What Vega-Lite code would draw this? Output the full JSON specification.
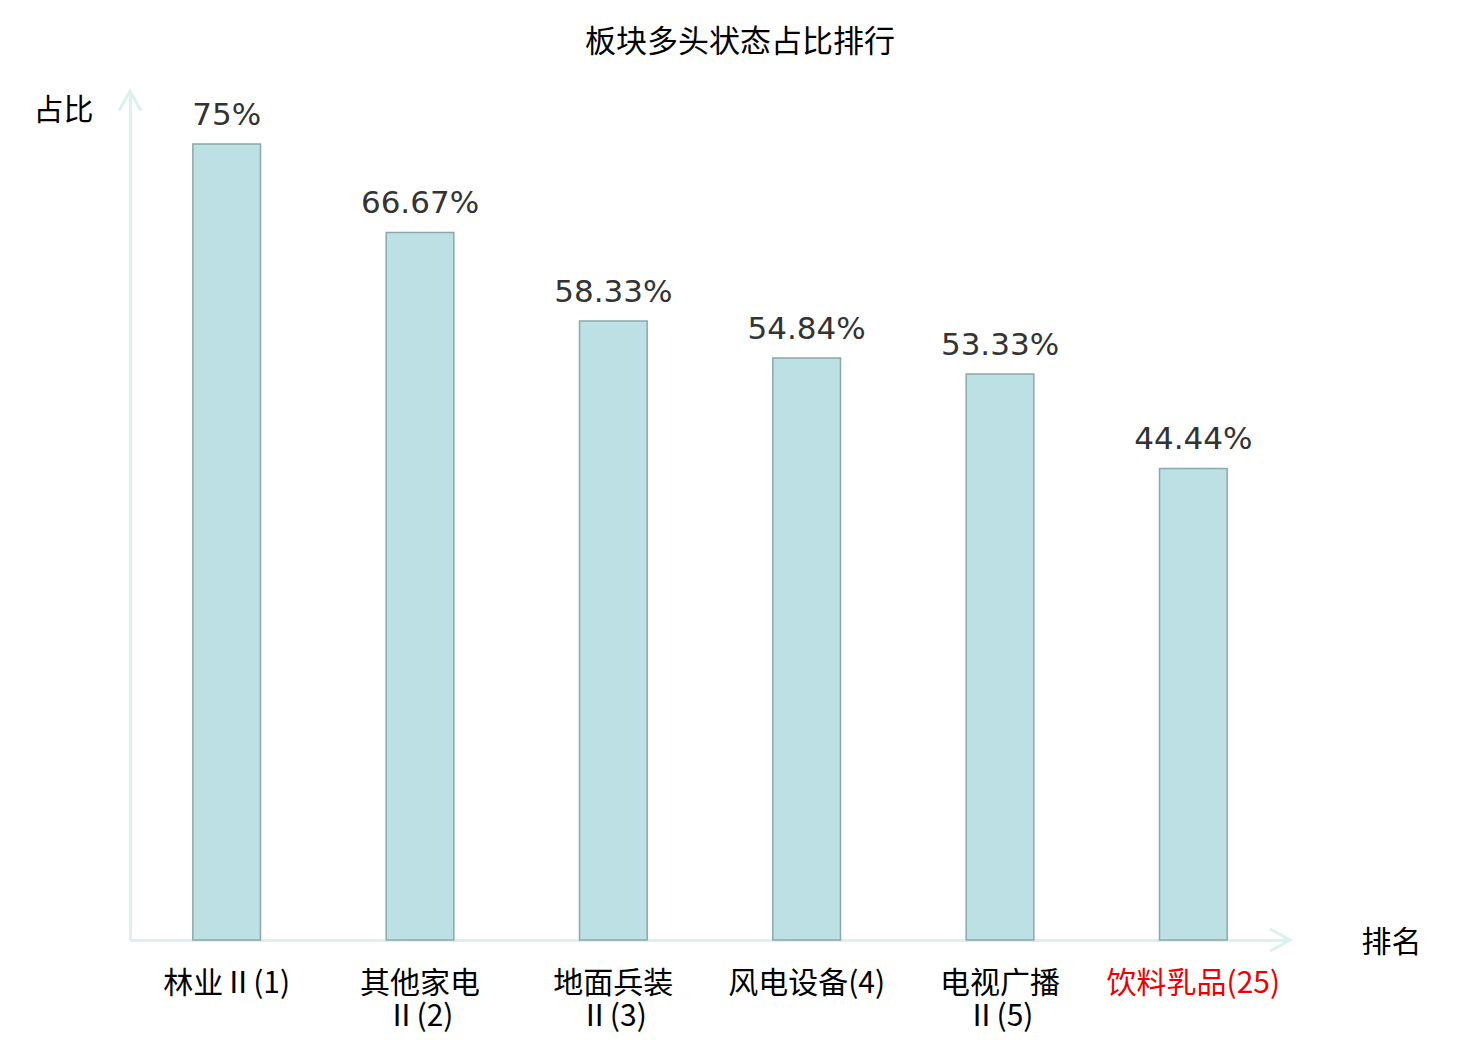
{
  "$schema": "https://vega.github.io/schema/vega-lite/v6.json",
  "autosize": "none",
  "padding": {"left": 130, "top": 91, "right": 190, "bottom": 100},
  "width": 1160,
  "height": 849,
  "background": "white",
  "title": {
    "text": "板块多头状态占比排行",
    "font": "Noto Sans CJK SC",
    "fontSize": 31,
    "fontWeight": "normal",
    "color": "#000",
    "anchor": "middle",
    "frame": "group",
    "dx": 30,
    "offset": 26
  },
  "config": {"view": {"stroke": null}},
  "layer": [
    {
      "data": {
        "values": [
          {"sector": "林业Ⅱ(1)", "value": 75},
          {"sector": "其他家电\nⅡ(2)", "value": 66.67},
          {"sector": "地面兵装\nⅡ(3)", "value": 58.33},
          {"sector": "风电设备(4)", "value": 54.84},
          {"sector": "电视广播\nⅡ(5)", "value": 53.33},
          {"sector": "饮料乳品(25)", "value": 44.44}
        ]
      },
      "transform": [{"calculate": "datum.value + '%'", "as": "label"}],
      "encoding": {
        "x": {
          "field": "sector",
          "type": "nominal",
          "sort": null,
          "scale": {"paddingInner": 0.65, "paddingOuter": 0.325},
          "axis": {
            "title": "排名",
            "titleFont": "Noto Sans CJK SC",
            "titleFontSize": 30,
            "titleFontWeight": "normal",
            "titleColor": "#000",
            "titleAngle": 0,
            "titleAlign": "center",
            "titleBaseline": "middle",
            "titleX": 1261,
            "titleY": 2,
            "labelAngle": 0,
            "labelExpr": "split(datum.label, '\\n')",
            "labelFont": "Noto Sans CJK SC",
            "labelFontSize": 30,
            "labelLineHeight": 33,
            "labelBaseline": "top",
            "labelPadding": 28,
            "labelColor": {
              "condition": {"test": "indexof(datum.value, '25') >= 0", "value": "#ee0000"},
              "value": "#000"
            },
            "ticks": false,
            "domainColor": "#dcf1ee",
            "domainWidth": 3
          }
        },
        "y": {
          "field": "value",
          "type": "quantitative",
          "scale": {"domain": [0, 80]},
          "axis": {
            "title": "占比",
            "titleFont": "Noto Sans CJK SC",
            "titleFontSize": 30,
            "titleFontWeight": "normal",
            "titleColor": "#000",
            "titleAngle": 0,
            "titleAlign": "center",
            "titleBaseline": "middle",
            "titleX": -67,
            "titleY": 19,
            "labels": false,
            "ticks": false,
            "grid": false,
            "domainColor": "#dcf1ee",
            "domainWidth": 3
          }
        }
      },
      "layer": [
        {
          "mark": {"type": "bar", "fill": "#bce0e3", "stroke": "#8aa9a9", "strokeWidth": 1.5}
        },
        {
          "mark": {
            "type": "text",
            "baseline": "alphabetic",
            "dy": -19,
            "font": "DejaVu Sans",
            "fontSize": 31,
            "color": "#333333"
          },
          "encoding": {"text": {"field": "label"}}
        }
      ]
    },
    {
      "data": {"values": [{"axis": "y"}]},
      "mark": {
        "type": "point",
        "shape": "M-1,1.8L0,0L1,1.8",
        "filled": false,
        "size": 484,
        "stroke": "#dcf1ee",
        "strokeWidth": 3,
        "opacity": 1
      },
      "encoding": {
        "x": {"value": 0},
        "y": {"datum": 80}
      }
    },
    {
      "data": {"values": [{"axis": "x"}]},
      "mark": {
        "type": "point",
        "shape": "M-1.8,-1L0,0L-1.8,1",
        "filled": false,
        "size": 484,
        "stroke": "#dcf1ee",
        "strokeWidth": 3,
        "opacity": 1
      },
      "encoding": {
        "x": {"value": "width"},
        "y": {"datum": 0}
      }
    }
  ]
}
